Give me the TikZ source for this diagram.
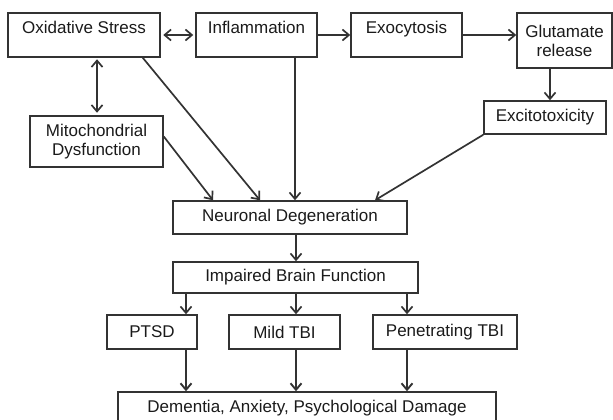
\documentclass[tikz,border=0pt]{standalone}
\usepackage{fontspec}
\setmainfont{Liberation Sans}
\usetikzlibrary{arrows.meta}
\definecolor{ln}{HTML}{333333}
\definecolor{tx}{HTML}{1A1A1A}
\tikzset{
  box/.style={draw=ln, line width=1.5pt, rectangle, inner xsep=0pt, inner ysep=0pt,
    align=center, text=tx, font=\fontsize{17}{19}\selectfont},
  toprow/.style={text height=21pt, text depth=23pt},
  arr/.style={draw=ln, line width=1.7pt, -{Straight Barb[length=6.5pt,width=11pt,line width=1.7pt]}},
  darr/.style={draw=ln, line width=1.7pt, {Straight Barb[length=6.5pt,width=11pt,line width=1.7pt]}-{Straight Barb[length=6.5pt,width=11pt,line width=1.7pt]}},
  tarr/.style={draw=ln, line width=2.4pt, -{Straight Barb[length=6.5pt,width=11pt,line width=1.9pt]}}
}
\begin{document}
\begin{tikzpicture}[x=1pt,y=-1pt]
\useasboundingbox (0,0) rectangle (613,420);
% top row
\node[box, toprow, minimum width=152pt] (ox) at (84,35) {Oxidative Stress};
\node[box, toprow, minimum width=121pt] (infl) at (256.5,35) {Inflammation};
\node[box, toprow, minimum width=111pt] (exo) at (406.5,35) {Exocytosis};
\node[box, minimum width=95pt, minimum height=55pt] (glu) at (564.5,40.5) {Glutamate\\release};
% second row
\node[box, minimum width=122pt, minimum height=33pt] (exc) at (545,117.5) {Excitotoxicity};
\node[box, minimum width=133pt, minimum height=51pt] (mito) at (96.5,141.5) {Mitochondrial\\Dysfunction};
% middle
\node[box, minimum width=234pt, minimum height=33pt] (nd) at (290,217.5) {Neuronal Degeneration};
\node[box, minimum width=245pt, minimum height=31pt] (ibf) at (295.5,277.5) {Impaired Brain Function};
% third row
\node[box, minimum width=90pt, minimum height=34pt] (ptsd) at (152,332) {PTSD};
\node[box, minimum width=111pt, minimum height=34pt] (mild) at (284.5,332) {Mild TBI};
\node[box, minimum width=144pt, minimum height=34pt] (pen) at (445,332) {Penetrating TBI};
% bottom
\node[box, minimum width=378pt, minimum height=32pt] (dem) at (307,408) {Dementia, Anxiety, Psychological Damage};

% connectors
\draw[darr, shorten <=2.5pt, shorten >=2pt] (ox.east) -- (infl.west);
\draw[arr] (infl.east) -- (exo.west);
\draw[arr] (exo.east) -- (exo.east -| glu.west);
\draw[darr, shorten <=1.5pt, shorten >=2.5pt] ([xshift=0.5pt]mito.north |- ox.south) -- ([xshift=0.5pt]mito.north);
\draw[arr] ([xshift=-18pt]ox.south east) -- ([xshift=-30pt]nd.north);
\draw[arr] ([xshift=38.5pt]infl.south) -- ([xshift=38.5pt]infl.south |- nd.north);
\draw[arr] ([yshift=5pt]mito.east) -- ([xshift=-77pt]nd.north);
\draw[arr] (exc.south west) -- ([xshift=85pt]nd.north);
\draw[arr] ([xshift=-14.5pt]glu.south) -- ([xshift=-14.5pt]glu.south |- exc.north);
\draw[arr] ([xshift=0.5pt]ibf.north |- nd.south) -- ([xshift=0.5pt]ibf.north);
\draw[arr] ([xshift=34pt]ptsd.north |- ibf.south) -- ([xshift=34pt]ptsd.north);
\draw[arr] ([xshift=11.5pt]mild.north |- ibf.south) -- ([xshift=11.5pt]mild.north);
\draw[arr] ([xshift=-38pt]pen.north |- ibf.south) -- ([xshift=-38pt]pen.north);
\draw[tarr] ([xshift=34pt]ptsd.south) -- ([xshift=34pt]ptsd.south |- dem.north);
\draw[tarr] ([xshift=11.5pt]mild.south) -- ([xshift=11.5pt]mild.south |- dem.north);
\draw[tarr] ([xshift=-38pt]pen.south) -- ([xshift=-38pt]pen.south |- dem.north);
\end{tikzpicture}
\end{document}
